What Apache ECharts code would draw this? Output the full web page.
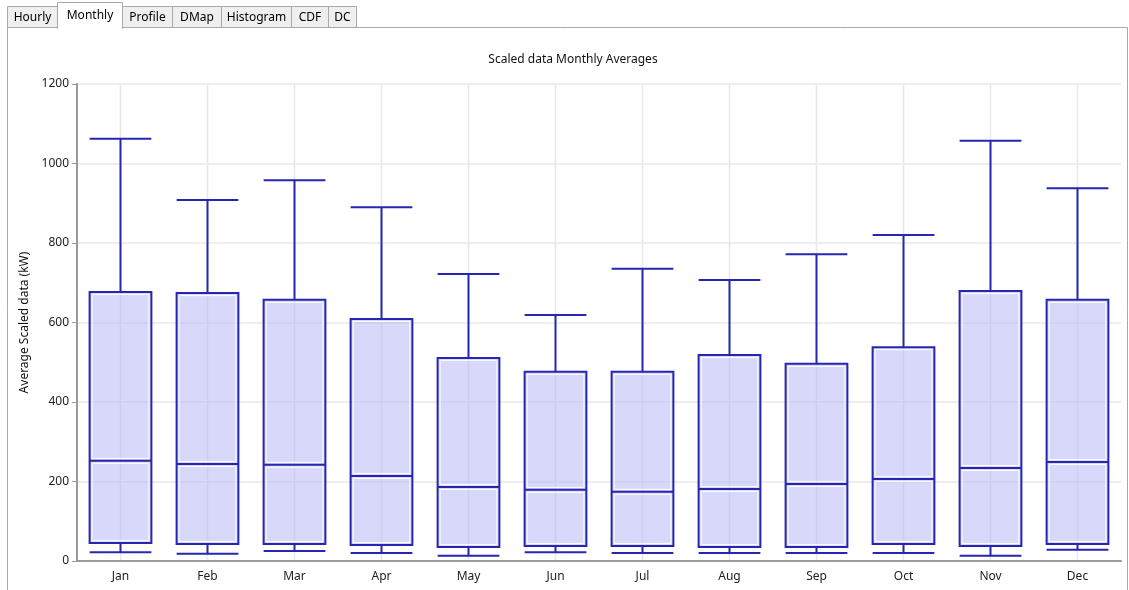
<!DOCTYPE html>
<html>
<head>
<meta charset="utf-8">
<script src="https://cdn.jsdelivr.net/npm/echarts@6/dist/echarts.min.js"></script>
<style>
html,body{margin:0;padding:0;background:#fff;}
#c{width:1129px;height:590px;}
</style>
</head>
<body>
<div id="c"></div>
<script>
const months = ['Jan','Feb','Mar','Apr','May','Jun','Jul','Aug','Sep','Oct','Nov','Dec'];
const minVals    = [22, 18, 25, 20, 13, 22, 20, 20, 20, 20, 13, 28];
const q1Vals     = [45, 43, 43, 40, 35, 38, 38, 35, 35, 43, 38, 43];
const medianVals = [252, 244, 242, 214, 186, 179, 174, 181, 194, 206, 234, 249];
const q3Vals     = [677, 674, 657, 609, 511, 476, 476, 518, 496, 538, 679, 657];
const maxVals    = [1062, 908, 958, 890, 722, 619, 735, 707, 772, 820, 1057, 938];
const yTicks = [0, 200, 400, 600, 800, 1000, 1200];
const tabs = ['Hourly','Monthly','Profile','DMap','Histogram','CDF','DC'];
const selectedTab = 'Monthly';

const data = months.map((m, i) => [i, minVals[i], q1Vals[i], medianVals[i], q3Vals[i], maxVals[i]]);

const DARK = '#2626b0';
const FILL = 'rgba(178,178,245,0.5)';
const GRID = '#e8e8e8';

function renderItem(params, api) {
  const idx = api.value(0);
  const band = api.size([1, 0])[0];
  const w = band * 0.71;
  const pMin = api.coord([idx, api.value(1)]);
  const pQ1 = api.coord([idx, api.value(2)]);
  const pMed = api.coord([idx, api.value(3)]);
  const pQ3 = api.coord([idx, api.value(4)]);
  const pMax = api.coord([idx, api.value(5)]);
  const pTop = api.coord([idx, yTicks[yTicks.length - 1]]);
  const pBot = api.coord([idx, yTicks[0]]);
  const cx = pMed[0];
  const x0 = cx - w / 2;
  const dark = {stroke: DARK, lineWidth: 2, fill: null};
  const children = [];
  // vertical grid line at category centre
  children.push({type: 'line', shape: {x1: cx, y1: pTop[1], x2: cx, y2: pBot[1] - 1}, style: {stroke: GRID, lineWidth: 1.5}});
  // fill
  children.push({type: 'rect', shape: {x: x0, y: pQ3[1], width: w, height: pQ1[1] - pQ3[1]}, style: {fill: FILL, stroke: null}});
  // inner white outlines of the two sub-boxes
  children.push({type: 'rect', shape: {x: x0 + 2.5, y: pQ3[1] + 2.5, width: w - 5, height: pMed[1] - pQ3[1] - 5}, style: {fill: null, stroke: '#ffffff', lineWidth: 1}});
  children.push({type: 'rect', shape: {x: x0 + 2.5, y: pMed[1] + 2.5, width: w - 5, height: pQ1[1] - pMed[1] - 5}, style: {fill: null, stroke: '#ffffff', lineWidth: 1}});
  // outer box
  children.push({type: 'rect', shape: {x: x0, y: pQ3[1], width: w, height: pQ1[1] - pQ3[1]}, style: dark});
  // median
  children.push({type: 'line', shape: {x1: x0, y1: pMed[1], x2: x0 + w, y2: pMed[1]}, style: {stroke: DARK, lineWidth: 2}});
  // whiskers
  children.push({type: 'line', shape: {x1: cx, y1: pQ3[1], x2: cx, y2: pMax[1]}, style: {stroke: DARK, lineWidth: 2}});
  children.push({type: 'line', shape: {x1: x0, y1: pMax[1], x2: x0 + w, y2: pMax[1]}, style: {stroke: DARK, lineWidth: 2}});
  children.push({type: 'line', shape: {x1: cx, y1: pQ1[1], x2: cx, y2: pMin[1]}, style: {stroke: DARK, lineWidth: 2}});
  children.push({type: 'line', shape: {x1: x0, y1: pMin[1], x2: x0 + w, y2: pMin[1]}, style: {stroke: DARK, lineWidth: 2}});
  return {type: 'group', children: children};
}

// tabs graphic
const tabWidths = {Hourly: 50, Monthly: 65, Profile: 50, DMap: 49, Histogram: 70, CDF: 37, DC: 28};
const tabGraphics = [];
let tx = 7;
tabs.forEach(t => {
  const w = tabWidths[t];
  const sel = t === selectedTab;
  const top = sel ? 2 : 6;
  tabGraphics.push({
    type: 'rect', z: sel ? 12 : 10,
    shape: {x: tx + 0.5, y: top + 0.5, width: w, height: 27 - top + (sel ? 1 : 0)},
    style: {fill: sel ? '#ffffff' : '#efefef', stroke: '#a9a9a9', lineWidth: 1}
  });
  if (sel) {
    tabGraphics.push({type: 'rect', z: 13, shape: {x: tx + 1, y: 26, width: w - 1, height: 3}, style: {fill: '#ffffff'}});
  }
  tabGraphics.push({
    type: 'text', z: 14,
    style: {x: tx + w / 2 + 0.5, y: top + (27 - top) / 2 + 1, text: t, align: 'center', verticalAlign: 'middle',
      fill: '#000', font: '12px "Noto Sans"'}
  });
  tx += w;
});
// panel border
tabGraphics.push({type: 'polyline', z: 11, shape: {points: [[7.5, 590], [7.5, 27.5], [1127.5, 27.5], [1127.5, 590]]}, style: {fill: null, stroke: '#a9a9a9', lineWidth: 1}});

const chart = echarts.init(document.getElementById('c'));
chart.setOption({
  animation: false,
  backgroundColor: '#fff',
  title: {
    text: 'Scaled data Monthly Averages',
    left: 568, top: 49, textAlign: 'center',
    textStyle: {fontSize: 12, fontWeight: 'normal', color: '#111', fontFamily: 'Noto Sans'}
  },
  grid: {left: 77, right: 8, top: 84, bottom: 29, containLabel: false},
  xAxis: {
    type: 'category',
    data: months,
    boundaryGap: true,
    axisLine: {lineStyle: {color: '#9a9a9a', width: 2}},
    axisTick: {alignWithLabel: true, length: 4, lineStyle: {color: '#9a9a9a'}},
    axisLabel: {color: '#222', fontSize: 12, margin: 10, fontFamily: 'Noto Sans'},
    splitLine: {show: false}
  },
  yAxis: {
    type: 'value',
    min: 0, max: 1200, interval: 200,
    name: 'Average Scaled data (kW)',
    nameLocation: 'middle',
    nameGap: 46,
    nameTextStyle: {fontSize: 12, color: '#111', fontFamily: 'Noto Sans'},
    axisLine: {show: true, lineStyle: {color: '#9a9a9a', width: 2}},
    axisTick: {show: true, length: 5, lineStyle: {color: '#9a9a9a'}},
    axisLabel: {color: '#222', fontSize: 12, margin: 8, fontFamily: 'Noto Sans',
      formatter: v => yTicks.includes(v) ? String(v) : ''},
    splitLine: {show: true, lineStyle: {color: GRID, width: 1.5}}
  },
  graphic: tabGraphics,
  series: [{
    type: 'custom',
    renderItem: renderItem,
    encode: {x: 0, y: [1, 2, 3, 4, 5]},
    data: data,
    clip: false
  }]
});
</script>
</body>
</html>
